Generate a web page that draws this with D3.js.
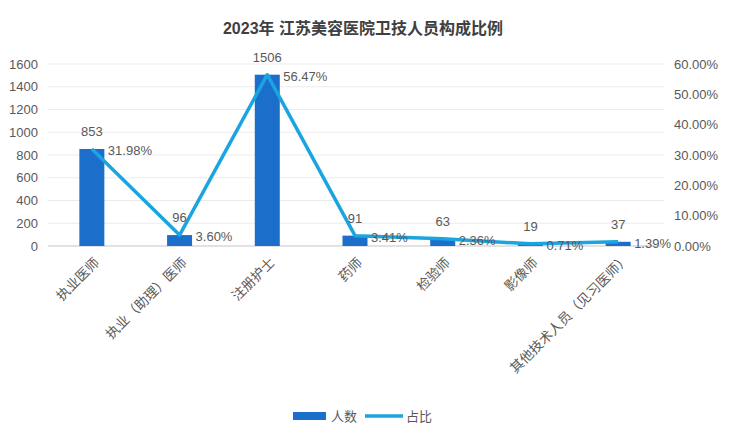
<!DOCTYPE html>
<html>
<head>
<meta charset="utf-8">
<script src="https://cdn.jsdelivr.net/npm/d3@7"></script>
<style>
  body { margin: 0; background: #fff; }
  text { font-family: "Liberation Sans", "Noto Sans CJK SC", sans-serif; }
</style>
</head>
<body>
<div id="chart"></div>
<script>
let W = 754, H = 442;

// chart data
let categories = ['执业医师', '执业（助理）医师', '注册护士', '药师', '检验师', '影像师', '其他技术人员（见习医师）'];
let counts = [853, 96, 1506, 91, 63, 19, 37];
let shares = [31.98, 3.60, 56.47, 3.41, 2.36, 0.71, 1.39];
let leftTicks = [0, 200, 400, 600, 800, 1000, 1200, 1400, 1600];
let rightTicks = [0, 10, 20, 30, 40, 50, 60];
let legendNames = ['人数', '占比'];

let barColor = '#1b6fcb';
let lineColor = '#1ba5e0';
let textColor = '#595959';

let margin = {left: 48, right: 92, top: 64, bottom: 196};
let x0 = margin.left, x1 = W - margin.right;
let y0 = H - margin.bottom, y1 = margin.top;

let svg = d3.select('#chart').append('svg')
  .attr('width', W).attr('height', H);

let x = d3.scaleBand().domain(categories).range([x0, x1]).paddingInner(0).paddingOuter(0);
let yL = d3.scaleLinear().domain([0, 1600]).range([y0, y1]);
let yR = d3.scaleLinear().domain([0, 60]).range([y0, y1]);

// title
svg.append('text')
  .attr('x', 363).attr('y', 34)
  .attr('text-anchor', 'middle')
  .attr('font-size', 16).attr('font-weight', 'bold')
  .attr('fill', '#404040')
  .text('2023年 江苏美容医院卫技人员构成比例');

// gridlines
svg.append('g').selectAll('line').data(leftTicks).join('line')
  .attr('x1', x0).attr('x2', x1 + 2)
  .attr('y1', d => yL(d)).attr('y2', d => yL(d))
  .attr('stroke', d => d === 0 ? '#d9d9d9' : '#ebebeb')
  .attr('stroke-width', d => d === 0 ? 1.5 : 1);

// left axis
let axL = d3.axisLeft(yL).tickValues(leftTicks).tickSize(0).tickPadding(10).tickFormat(d3.format('d'));
let gL = svg.append('g').attr('transform', `translate(${x0},0)`).call(axL);
gL.select('.domain').remove();
gL.selectAll('text').attr('font-size', 13).attr('fill', textColor)
  .attr('font-family', '"Liberation Sans", sans-serif');

// right axis
let axR = d3.axisRight(yR).tickValues(rightTicks).tickSize(0).tickPadding(10)
  .tickFormat(d => d.toFixed(2) + '%');
let gR = svg.append('g').attr('transform', `translate(${x1 + 2},0)`).call(axR);
gR.select('.domain').remove();
gR.selectAll('text').attr('font-size', 13).attr('fill', textColor)
  .attr('font-family', '"Liberation Sans", sans-serif');

// x labels (full-width closing paren leaves blank space, nudge those)
let axB = d3.axisBottom(x).tickSize(0).tickPadding(0);
let gB = svg.append('g').attr('transform', `translate(0,${y0})`).call(axB);
gB.select('.domain').remove();
gB.selectAll('text')
  .attr('font-size', 13.5).attr('fill', textColor)
  .attr('text-anchor', 'end')
  .attr('dy', '0.35em')
  .attr('dx', d => d.endsWith('）') ? '0.4em' : 0)
  .attr('transform', 'translate(5,14) rotate(-45)');

// bars
let bw = 25;
svg.append('g').selectAll('rect').data(counts).join('rect')
  .attr('x', (d, i) => x(categories[i]) + x.bandwidth() / 2 - bw / 2)
  .attr('width', bw)
  .attr('y', d => yL(d))
  .attr('height', d => y0 - yL(d))
  .attr('fill', barColor);

// line
let line = d3.line()
  .x((d, i) => x(categories[i]) + x.bandwidth() / 2)
  .y(d => yR(d));
svg.append('path').datum(shares)
  .attr('d', line)
  .attr('fill', 'none')
  .attr('stroke', lineColor)
  .attr('stroke-width', 3.5)
  .attr('stroke-linejoin', 'round');

// bar labels
svg.append('g').selectAll('text').data(counts).join('text')
  .attr('x', (d, i) => x(categories[i]) + x.bandwidth() / 2)
  .attr('y', d => yL(d) - 13)
  .attr('text-anchor', 'middle')
  .attr('font-size', 13).attr('fill', textColor)
  .text(d => d);

// share labels
svg.append('g').selectAll('text').data(shares).join('text')
  .attr('x', (d, i) => x(categories[i]) + x.bandwidth() / 2 + 16)
  .attr('y', d => yR(d) + 6)
  .attr('font-size', 13).attr('fill', textColor)
  .text(d => d.toFixed(2) + '%');

// legend
let lg = svg.append('g');
lg.append('rect').attr('x', 293).attr('y', 412).attr('width', 33).attr('height', 8).attr('fill', barColor);
lg.append('text').attr('x', 331).attr('y', 421).attr('font-size', 13).attr('fill', textColor).text(legendNames[0]);
lg.append('line').attr('x1', 365).attr('x2', 403).attr('y1', 416).attr('y2', 416)
  .attr('stroke', lineColor).attr('stroke-width', 3.5);
lg.append('text').attr('x', 406).attr('y', 421).attr('font-size', 13).attr('fill', textColor).text(legendNames[1]);
</script>
</body>
</html>
